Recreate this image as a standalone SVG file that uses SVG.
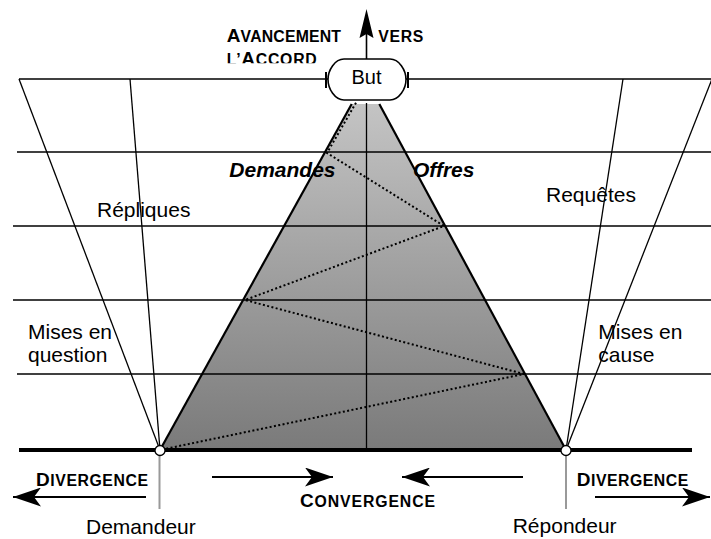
<svg xmlns="http://www.w3.org/2000/svg" width="711" height="539" viewBox="0 0 711 539">
<style>
text{font-family:"Liberation Sans",Arial,sans-serif;fill:#000}
.lbl{font-size:21px}
.bi{font-size:21px;font-weight:bold;font-style:italic}
.sc{font-size:15.8px;font-weight:bold}
.big{font-size:19px}
.thin{stroke:#000;stroke-width:1.3;fill:none}
.edge{stroke:#000;stroke-width:2.2;fill:none}
.dot{stroke:#000;stroke-width:2;stroke-dasharray:2 2.4;fill:none}
.arr{stroke:#000;stroke-width:2;fill:none;marker-end:url(#ah)}
.pin{stroke:#999;stroke-width:2}
.vtx{fill:#fff;stroke:#000;stroke-width:1.3}
</style>
<defs>
<linearGradient id="g" x1="0" y1="0" x2="0" y2="1">
<stop offset="0" stop-color="#c4c4c4"/>
<stop offset="1" stop-color="#7a7a7a"/>
</linearGradient>
<marker id="ah" viewBox="0 0 28 19" refX="28" refY="9.5" markerWidth="28" markerHeight="19" markerUnits="userSpaceOnUse" orient="auto">
<path d="M0,0 L28,9.5 L0,19 L7,9.5 Z" fill="#000"/>
</marker>
<clipPath id="clipTop"><rect x="0" y="0" width="711" height="63.3"/></clipPath>
</defs>

<g id="triangle">
<polygon points="351.7,104 379.3,104 566,450 160,450" fill="url(#g)"/>
</g>

<g id="grid">
<line class="thin" x1="19" y1="79" x2="711" y2="79"/>
<line class="thin" x1="17" y1="152" x2="711" y2="152"/>
<line class="thin" x1="13" y1="226" x2="711" y2="226"/>
<line class="thin" x1="13" y1="300" x2="711" y2="300"/>
<line class="thin" x1="17" y1="374" x2="711" y2="374"/>
</g>

<g id="connectors">
<line class="thin" x1="19" y1="79" x2="160" y2="450"/>
<line class="thin" x1="130" y1="79" x2="160" y2="450"/>
<line class="thin" x1="623" y1="79" x2="566" y2="450"/>
<line class="thin" x1="712" y1="79" x2="566" y2="450"/>
<line class="thin" x1="366.5" y1="103" x2="366.5" y2="450"/>
<polyline class="dot" points="356,102.7 327,153 444,226 245,300 524,374 160,450"/>
<line class="edge" x1="351.7" y1="104" x2="160" y2="450"/>
<line class="edge" x1="379.3" y1="104" x2="566" y2="450"/>
<line x1="19" y1="450" x2="692" y2="450" stroke="#000" stroke-width="4"/>
<line class="pin" x1="159.5" y1="455" x2="159.5" y2="509"/>
<line class="pin" x1="566" y1="455" x2="566" y2="509"/>
<line x1="366.5" y1="59" x2="366.5" y2="34" stroke="#000" stroke-width="1.6"/>
<path d="M366.5,9 L373.5,38 L366.5,34 L359.5,38 Z" fill="#000"/>
<line class="arr" x1="146" y1="497" x2="13" y2="497"/>
<line class="arr" x1="595" y1="497" x2="710" y2="497"/>
<line class="arr" x1="212" y1="477" x2="333" y2="477"/>
<line class="arr" x1="523" y1="477" x2="402" y2="477"/>
</g>

<g id="demandeur">
<circle class="vtx" cx="160" cy="450.5" r="5"/>
<text class="lbl" x="86" y="534">Demandeur</text>
</g>
<g id="repondeur">
<circle class="vtx" cx="566" cy="450.5" r="5"/>
<text class="lbl" x="512.7" y="533">Répondeur</text>
</g>

<g id="but">
<line x1="326" y1="72" x2="326" y2="88" stroke="#000" stroke-width="2"/>
<line x1="408" y1="72" x2="408" y2="88" stroke="#000" stroke-width="2"/>
<path d="M344,59 H390 C399,59 406,70 406,79.5 C406,89 399,100 390,100 H344 C335,100 328,89 328,79.5 C328,70 335,59 344,59 Z" fill="#fff" stroke="#000" stroke-width="1.6"/>
<text x="366.5" y="84" font-size="20" text-anchor="middle">But</text>
</g>

<g id="axis-label">
<text class="sc" x="226.7" y="41.7" textLength="114.3" lengthAdjust="spacing"><tspan class="big">A</tspan>VANCEMENT</text>
<text class="sc" x="378.3" y="41.7" textLength="45" lengthAdjust="spacing">VERS</text>
<text class="sc" x="226.7" y="65" textLength="90" lengthAdjust="spacing" clip-path="url(#clipTop)">L’<tspan class="big">A</tspan>CCORD</text>
</g>

<g id="demandes"><text class="bi" x="229.3" y="176.5">Demandes</text></g>
<g id="offres"><text class="bi" x="413" y="176.5">Offres</text></g>
<g id="repliques"><text class="lbl" x="97" y="217">Répliques</text></g>
<g id="requetes"><text class="lbl" x="546" y="202">Requêtes</text></g>
<g id="mises-en-question"><text class="lbl" x="28" y="339">Mises en<tspan x="28" y="362">question</tspan></text></g>
<g id="mises-en-cause"><text class="lbl" x="598.3" y="339">Mises en<tspan x="598.3" y="362">cause</tspan></text></g>

<g id="divergence-left"><text class="sc" x="36" y="486" textLength="112" lengthAdjust="spacing"><tspan class="big">D</tspan>IVERGENCE</text></g>
<g id="convergence"><text class="sc" x="300" y="506.7" textLength="135" lengthAdjust="spacing"><tspan class="big">C</tspan>ONVERGENCE</text></g>
<g id="divergence-right"><text class="sc" x="576.7" y="486" textLength="111.6" lengthAdjust="spacing"><tspan class="big">D</tspan>IVERGENCE</text></g>
</svg>
